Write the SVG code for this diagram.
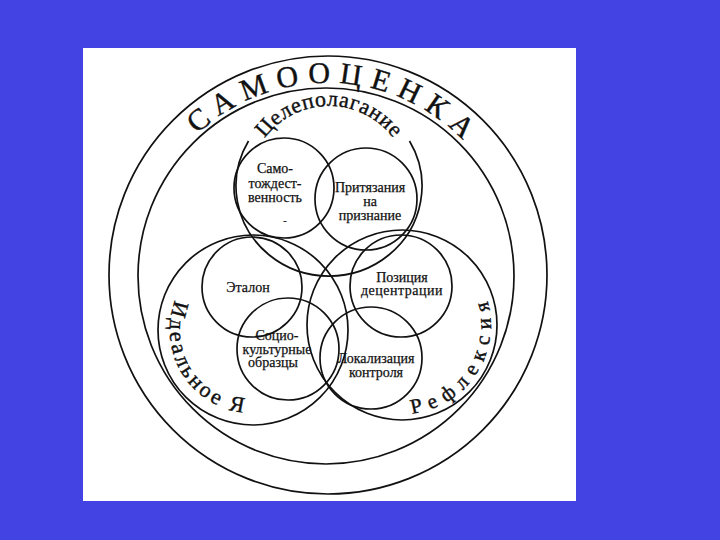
<svg xmlns="http://www.w3.org/2000/svg" width="720" height="540" viewBox="0 0 720 540">
<style>
.ln{fill:none;stroke:#111;stroke-width:1.7}
.lbl{font-family:"Liberation Serif","DejaVu Serif",serif;font-size:14px;fill:#111;stroke:#111;stroke-width:0.25;text-anchor:middle}
.big{font-family:"Liberation Serif","DejaVu Serif",serif;fill:#111;stroke:#111;stroke-width:0.4}
</style>
<defs>
<path id="pOuter" d="M137 273 A190 190 0 0 1 517 273"/>
<path id="pTop" d="M249 186 A80 80 0 0 1 409 186"/>
<path id="pLeft" d="M203.05 263.7 A83 83 0 0 0 290.7 404"/>
<path id="pRight" d="M362.3 404.7 A89 89 0 0 0 454.9 253.5"/>
</defs>
<rect x="0" y="0" width="720" height="540" fill="#4343E3"/>
<rect x="83" y="48" width="493" height="453" fill="#fff"/>

<g id="samoocenka">
<circle class="ln" cx="328" cy="275" r="219"/>
<circle class="ln" cx="326" cy="276" r="188"/>
<text class="big" font-size="30" letter-spacing="9" text-anchor="middle"><textPath href="#pOuter" startOffset="307">САМООЦЕНКА</textPath></text>
</g>

<g id="celepolaganie">
<path class="ln" d="M409.5 141 A93 90 0 1 1 248.5 141"/>
<text class="big" font-size="22" letter-spacing="0.6" text-anchor="middle"><textPath href="#pTop" startOffset="50%">Целеполагание</textPath></text>
</g>

<g id="idealnoe-ya">
<circle class="ln" cx="253" cy="330" r="95"/>
<text class="big" font-size="22" letter-spacing="3" text-anchor="middle"><textPath href="#pLeft" startOffset="50%">Идеальное Я</textPath></text>
</g>

<g id="refleksiya">
<circle class="ln" cx="402" cy="325" r="95"/>
<text class="big" font-size="21" letter-spacing="7.5" text-anchor="middle"><textPath href="#pRight" startOffset="50%">Рефлексия</textPath></text>
</g>

<g id="samotozhdestvennost">
<circle class="ln" cx="284" cy="188" r="50"/>
<text class="lbl" x="275" y="173">Само-<tspan x="275" dy="15">тождест-</tspan><tspan x="275" dy="14">венность</tspan><tspan x="285" dy="22" font-size="10">-</tspan></text>
</g>

<g id="prityazaniya">
<circle class="ln" cx="366" cy="199" r="51"/>
<text class="lbl" x="370" y="192">Притязания<tspan x="370" dy="14">на</tspan><tspan x="370" dy="14">признание</tspan></text>
</g>

<g id="etalon">
<circle class="ln" cx="252" cy="287" r="50"/>
<text class="lbl" x="248" y="292">Эталон</text>
</g>

<g id="poziciya">
<circle class="ln" cx="401" cy="286" r="51"/>
<text class="lbl" x="402" y="282">Позиция<tspan x="402" dy="13" letter-spacing="0.5">децентрации</tspan></text>
</g>

<g id="sociokulturnye">
<circle class="ln" cx="288" cy="349" r="51"/>
<text class="lbl" x="277" y="340">Социо-<tspan x="277" dy="14">культурные</tspan><tspan x="273" dy="13">образцы</tspan></text>
</g>

<g id="lokalizaciya">
<circle class="ln" cx="371" cy="358" r="51"/>
<text class="lbl" x="376" y="363">Локализация<tspan x="376" dy="14">контроля</tspan></text>
</g>
</svg>
